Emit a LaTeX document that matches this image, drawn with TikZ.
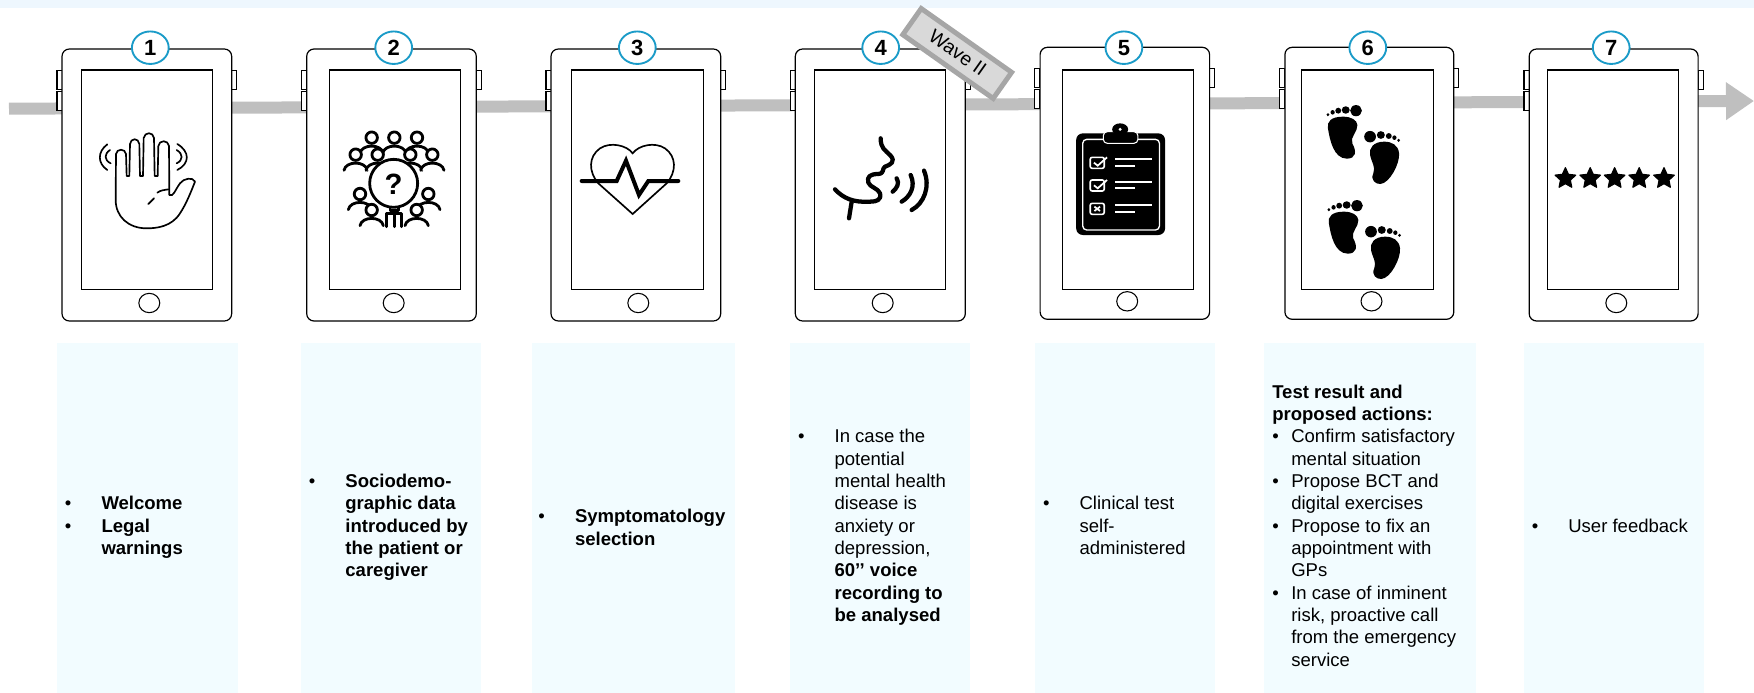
\documentclass[tikz,border=0pt]{standalone}
\usepackage{fontspec}
\setmainfont{Liberation Sans}
\usetikzlibrary{shapes.geometric,arrows.meta,calc}
\definecolor{band}{HTML}{EEF7FE}
\definecolor{panel}{HTML}{F2FCFF}
\definecolor{flow}{HTML}{BFBFBF}
\definecolor{ring}{HTML}{1A9BC8}
\definecolor{tagfill}{HTML}{D9D9D9}
\definecolor{tagline}{HTML}{A6A6A6}
\newcommand\bul{\makebox[27.4pt][l]{\normalfont •}}
\newcommand\cnt{\hspace*{27.4pt}}
\newcommand\bulb{\makebox[14.25pt][l]{\normalfont •}}
\newcommand\cntb{\hspace*{14.25pt}}
\newcommand\crowd[2]{\draw[icon,fill=white] ({#1-35},{#2+47}) .. controls ({#1-30},{#2+18}) and ({#1+30},{#2+18}) .. ({#1+35},{#2+47});
  \draw[icon,fill=white] (#1,#2) ellipse [x radius=4.3pt,y radius=4.3pt];}
\tikzset{
  phone/.style={draw=black,fill=white,line width=.9pt,rounded corners=5.5pt,inner sep=0pt,outer sep=0pt},
  screenbox/.style={draw=black,fill=white,line width=.9pt,inner sep=0pt,outer sep=0pt,minimum width=98.5pt,minimum height=164.8pt},
  homekey/.style={ellipse,draw=black,fill=white,line width=.8pt,inner sep=0pt,outer sep=0pt,minimum width=15.7pt,minimum height=14.5pt},
  sidekey/.style={draw=black,fill=white,line width=.8pt,inner sep=0pt,outer sep=0pt,minimum width=3.9pt,minimum height=14.3pt},
  badge/.style={ellipse,draw=ring,fill=white,line width=1.4pt,inner sep=0pt,outer sep=0pt,minimum width=27.6pt,minimum height=24.4pt,font=\fontsize{16.5pt}{16.5pt}\selectfont\bfseries},
  panelbox/.style={fill=panel,inner sep=0pt,outer sep=0pt,minimum height=262.5pt,anchor=north west},
  txt/.style={anchor=west,align=left,inner sep=0pt,font=\fontsize{13.9pt}{16.76pt}\selectfont},
  icon/.style={draw=black,line width=2.1pt,line cap=round,line join=round},
  thin icon/.style={draw=black,line width=1.25pt,line cap=round,line join=round},
  starmark/.style={star,star points=5,star point ratio=2.1,fill=black,draw=black,line width=.9pt,line join=round,inner sep=0pt,minimum size=16.2pt},
}
\begin{document}
\begin{tikzpicture}[x=.75pt,y=-.75pt]
\useasboundingbox (0,0) rectangle (1754,693);
\fill[band] (0,0) rectangle (1754,8);
% flow arrow
\coordinate (flowstart) at (9,108.7);
\coordinate (flowend) at (1754,101);
\draw[flow,line width=9pt,-{Triangle[length=21pt,width=27pt]}] (flowstart) -- (flowend);
% text panels
\foreach \i/\xa/\xb in {1/57/237.6,2/300.9/481,3/531.5/735,4/789.7/969.8,5/1034.7/1214.8,6/1264/1476,7/1524/1703.7}{
  \node[panelbox,minimum width={(\xb-\xa)*.75pt}] (b\i) at (\xa,343.3) {};
}
% tablets
\foreach \i/\xl/\xr/\bl/\br/\sx/\hx/\cx/\dy in {
 1/62/231.7/57/236.7/146.8/149.3/150.3/0,
 2/306.7/476.3/301.3/481.3/395/393.7/393.7/0,
 3/551/720.7/546/725.7/637.5/638.3/637.3/0,
 4/795.3/965.3/790.3/970.3/880/882.7/880.7/0,
 5/1040.1/1209.6/1034.8/1214.7/1128.2/1127.2/1123.9/-1.7,
 6/1284.9/1453.8/1279.6/1458.9/1367.5/1371.5/1367.8/-1.7,
 7/1529.2/1698.1/1524/1703.4/1613/1616.3/1611.2/0}{
  \node[sidekey] (la\i) at ({\bl+2.6},{79.8+\dy}) {};
  \node[sidekey] (lb\i) at ({\bl+2.6},{101+\dy}) {};
  \node[sidekey] (ra\i) at ({\br-2.6},{79.8+\dy}) {};
  \node[phone,minimum width={(\xr-\xl)*.75pt},minimum height=204pt] (p\i) at ({(\xl+\xr)/2},{185+\dy}) {};
  \node[screenbox,minimum width={131.3*.75pt}] (s\i) at (\sx,179.85) {};
  \node[homekey] (h\i) at (\hx,{303+\dy}) {};
  \node[badge] (c\i) at (\cx,47.7) {\i};
}
% panel texts
\node[txt] (t1) at (64.7,527.5) {\bfseries\bul Welcome\\\bfseries\bul Legal\\\bfseries\cnt warnings};
\node[txt] (t2) at (308.6,527.5) {\bfseries\bul Sociodemo-\\\bfseries\cnt graphic data\\\bfseries\cnt introduced by\\\bfseries\cnt the patient or\\\bfseries\cnt caregiver};
\node[txt] (t3) at (538.2,527.5) {\bfseries\bul Symptomatology\\\bfseries\cnt selection};
\node[txt] (t4) at (797.8,527.5) {\bul In case the\\\cnt potential\\\cnt mental health\\\cnt disease is\\\cnt anxiety or\\\cnt depression,\\\bfseries\cnt 60’’ voice\\\bfseries\cnt recording to\\\bfseries\cnt be analysed};
\node[txt] (t5) at (1042.8,525.5) {\bul Clinical test\\\cnt self-\\\cnt administered};
\node[txt] (t6) at (1272,525.5) {\bfseries Test result and\\\bfseries proposed actions:\\\bulb Confirm satisfactory\\\cntb mental situation\\\bulb Propose BCT and\\\cntb digital exercises\\\bulb Propose to fix an\\\cntb appointment with\\\cntb GPs\\\bulb In case of inminent\\\cntb risk, proactive call\\\cntb from the emergency\\\cntb service};
\node[txt] (t7) at (1531.5,526) {\bul User feedback};
% icon 1 and 2
\begin{scope}[x=.25pt,y=-.25pt]
 \draw[thin icon] (347,600) -- (348,462) .. controls (350,445) and (376,445) .. (378,462) -- (380,528) -- (388,528) -- (390,432) .. controls (392,413) and (416,413) .. (418,432) -- (420,528) -- (429,528) -- (431,414) .. controls (434,395) and (460,395) .. (462,414) -- (464,528) -- (473,528) -- (475,438) .. controls (477,419) and (505,419) .. (507,438) -- (508,585) .. controls (520,592) and (525,570) .. (540,550) .. controls (550,535) and (580,530) .. (585,545) .. controls (575,570) and (560,610) .. (540,640) .. controls (515,680) and (470,685) .. (440,685) .. controls (385,685) and (347,650) .. (347,600) -- cycle;
 \draw[thin icon] (322,433) .. controls (292,455) and (292,490) .. (322,510);
 \draw[thin icon] (330,450) .. controls (312,462) and (312,480) .. (332,490);
 \draw[thin icon] (532,432) .. controls (570,455) and (570,490) .. (532,510);
 \draw[thin icon] (530,450) .. controls (550,462) and (550,480) .. (530,490);
 \draw[thin icon] (445,612) -- (462,595);
 \draw[thin icon] (472,578) .. controls (482,570) and (495,570) .. (505,568);
 % group
 \foreach \hx/\hy in {1115/413,1183/413,1251/413,1067/464,1133/464,1231/464,1297/464,1080/582,1285/582,1115/630,1250/630}{\crowd{\hx}{\hy}}
 \draw[icon,fill=white] (1160,680) -- (1160,640) -- (1205,640) -- (1205,680);
 \draw[icon] (1183,640) -- (1183,680);
 \draw[icon,fill=white] (1170,608) rectangle (1196,632);
 \draw[icon,fill=white] (1181,550) ellipse [x radius=18pt,y radius=18pt];
 \node[inner sep=0pt,font=\fontsize{22pt}{22pt}\selectfont\bfseries] (qm) at (1181,553) {?};
\end{scope}
% icon 3 and 4
\begin{scope}[x=.25pt,y=-.25pt,xshift=390pt]
 \draw[thin icon,line join=miter] (338,642) -- (235,550) .. controls (205,515) and (205,470) .. (240,445) .. controls (270,425) and (320,435) .. (338,460) .. controls (356,435) and (405,425) .. (435,445) .. controls (470,470) and (470,515) .. (440,550) -- cycle;
 \draw[draw=black,line width=3pt,line join=miter,line cap=round] (185,543) -- (290,543) -- (318,482) -- (357,585) -- (385,543) -- (475,543);
 \begin{scope}[icon,line width=3.2pt]
 \draw (1082,415) .. controls (1082,445) and (1095,450) .. (1110,465) .. controls (1130,485) and (1110,495) .. (1095,500) .. controls (1085,505) and (1095,520) .. (1075,522) .. controls (1050,522) and (1040,530) .. (1045,548) .. controls (1050,562) and (1075,565) .. (1080,580) .. controls (1085,600) and (1070,605) .. (1050,605) .. controls (1000,608) and (970,595) .. (945,568);
 \draw (995,605) -- (987,655);
 \draw (1130,535) .. controls (1140,550) and (1130,565) .. (1118,575);
 \draw (1172,525) .. controls (1188,560) and (1170,590) .. (1145,605);
 \draw (1212,512) .. controls (1232,560) and (1212,610) .. (1175,630);
 \end{scope}
\end{scope}
% icons 5 and 6
\begin{scope}[x=.351pt,y=-.25pt,xshift=765pt]
 \fill[black,rounded corners=5pt] (120,400) rectangle (310,705);
 \draw[white,line width=1pt,rounded corners=3pt] (134,418) rectangle (298,690);
 \draw[white,fill=black,line width=.8pt,rounded corners=3pt] (178,395) rectangle (252,430);
 \fill[black] (214,388) ellipse [x radius=6pt,y radius=4.5pt];
 \fill[white] (214,388) ellipse [x radius=1.2pt,y radius=1.2pt];
 \foreach \yy in {472,540,610}{
   \draw[white,line width=1.2pt,rounded corners=1.5pt] (150,\yy) rectangle (180,{\yy+33});
   \draw[white,line width=1.3pt] (203,{\yy+6}) -- (282,{\yy+6});
   \draw[white,line width=1.3pt] (203,{\yy+25}) -- (245,{\yy+25});
 }
 \draw[white,line width=1.3pt] (158,488) -- (166,497) -- (186,472);
 \draw[white,line width=1.3pt] (158,556) -- (166,565) -- (186,540);
 \draw[white,line width=1.3pt] (159,620) -- (171,633) (171,620) -- (159,633);
 \foreach \dx/\dy in {0/0,2/285}{
  \begin{scope}[shift={(\dx,\dy)}]
   \fill[black] (690,350) .. controls (665,350) and (655,365) .. (658,385) .. controls (662,420) and (670,475) .. (698,476) .. controls (718,476) and (720,455) .. (710,430) .. controls (705,410) and (722,395) .. (721,375) .. controls (720,360) and (708,350) .. (690,350) -- cycle;
   \fill[black] (718,332) ellipse [x radius=4.4pt,y radius=4.2pt];
   \fill[black] (696,330) ellipse [x radius=3pt,y radius=2.8pt];
   \fill[black] (680,332) ellipse [x radius=2.2pt,y radius=2.2pt];
   \fill[black] (668,337) ellipse [x radius=1.6pt,y radius=1.7pt];
   \fill[black] (658,344) ellipse [x radius=1.1pt,y radius=1.2pt];
   \fill[black] (778,425) .. controls (755,425) and (745,445) .. (748,465) .. controls (752,490) and (760,500) .. (755,520) .. controls (748,540) and (760,553) .. (770,552) .. controls (790,550) and (812,490) .. (810,460) .. controls (808,435) and (795,425) .. (778,425) -- cycle;
   \fill[black] (748,410) ellipse [x radius=4.4pt,y radius=4.3pt];
   \fill[black] (771,405) ellipse [x radius=3pt,y radius=2.9pt];
   \fill[black] (788,408) ellipse [x radius=2.2pt,y radius=2.2pt];
   \fill[black] (800,413) ellipse [x radius=1.6pt,y radius=1.7pt];
   \fill[black] (809,421) ellipse [x radius=1.1pt,y radius=1.2pt];
  \end{scope}
 }
\end{scope}
% stars
\foreach \i/\sx in {1/1565.4,2/1590.2,3/1614.6,4/1639.2,5/1664}{
 \node[starmark] (st\i) at (\sx,178.5) {};
}
% wave tag
\node[draw=tagline,fill=tagfill,line width=3.7pt,rotate=-35.2,inner sep=0pt,minimum width=83pt,minimum height=24pt,font=\fontsize{14.5pt}{14.5pt}\selectfont] (wave) at (957.2,53.5) {\raisebox{1.5pt}{Wave II}};
\end{tikzpicture}
\end{document}
